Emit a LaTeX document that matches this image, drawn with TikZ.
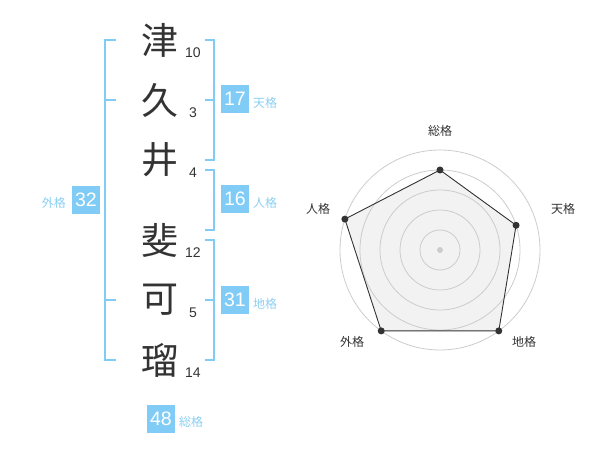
\documentclass[tikz,border=0pt]{standalone}
\usepackage{fontspec}
\usetikzlibrary{calc}
\setmainfont{Noto Sans CJK JP}
\newfontfamily\numfont{Liberation Sans}
\definecolor{bl}{HTML}{80CCF7}
\definecolor{bltxt}{HTML}{8CCFF3}
\definecolor{dk}{HTML}{333333}
\definecolor{gridc}{HTML}{CCCCCC}
\definecolor{fillc}{HTML}{F2F2F2}
\begin{document}
\begin{tikzpicture}[x=1pt,y=-1pt,
  kanji/.style={font=\fontsize{37}{37}\selectfont, text=dk, inner sep=0},
  stroke/.style={font=\numfont\fontsize{14}{14}\selectfont, text=dk, inner sep=0},
  bx/.style={fill=bl, text=white, minimum width=28, minimum height=28, inner sep=0, font=\numfont\fontsize{19.5}{19.5}\selectfont},
  kaku/.style={font=\fontsize{12}{12}\selectfont, text=bltxt, inner sep=0},
  brk/.style={draw=bl, line width=1.8},
  rlab/.style={font=\fontsize{12}{12}\selectfont, text=dk, inner sep=0},
  gridl/.style={draw=gridc, line width=0.8},
  dot/.style={circle, fill=dk, inner sep=0, minimum size=7}
]
\useasboundingbox (0,0) rectangle (600,470);
% kanji
\node[kanji] (k1) at (160,40) {津};
\node[kanji] (k2) at (160,100) {久};
\node[kanji] (k3) at (160,160) {井};
\node[kanji] (k4) at (160,240) {斐};
\node[kanji] (k5) at (160,300) {可};
\node[kanji] (k6) at (160,360) {瑠};
% strokes
\node[stroke] (n1) at (193,53) {10};
\node[stroke] (n2) at (193,113) {3};
\node[stroke] (n3) at (193,173) {4};
\node[stroke] (n4) at (193,253) {12};
\node[stroke] (n5) at (193,313) {5};
\node[stroke] (n6) at (193,373) {14};
% outer bracket
\draw[brk] (116,40) -- (105,40) -- (105,360) -- (116,360);
\draw[brk] (105,100) -- (116,100);
\draw[brk] (105,300) -- (116,300);
% ten
\draw[brk] (205,40) -- (214,40) -- (214,160) -- (205,160);
\draw[brk] (205,100) -- (214,100);
% jin
\draw[brk] (205,170) -- (214,170) -- (214,230) -- (205,230);
% chi
\draw[brk] (205,240) -- (214,240) -- (214,360) -- (205,360);
\draw[brk] (205,300) -- (214,300);
% boxes
\node[bx] (b17) at (235,99) {17};
\node[kaku,anchor=west] (t17) at (253,103) {天格};
\node[bx] (b16) at (235,199) {16};
\node[kaku,anchor=west] (t16) at (253,203) {人格};
\node[bx] (b31) at (235,300) {31};
\node[kaku,anchor=west] (t31) at (253,304) {地格};
\node[bx] (b32) at (86,200) {32};
\node[kaku,anchor=east] (t32) at (66,203) {外格};
\node[bx] (b48) at (161,418.5) {48};
\node[kaku,anchor=west] (t48) at (179,422) {総格};
% radar
\begin{scope}[shift={(440,250)}]
  \coordinate (pA) at (-90:80);
  \coordinate (pB) at (-18:80);
  \coordinate (pC) at (54:100);
  \coordinate (pD) at (126:100);
  \coordinate (pE) at (-162:100);
  \fill[fillc] (pA) -- (pB) -- (pC) -- (pD) -- (pE) -- cycle;
  \foreach \r in {20,40,60,80,100} \draw[gridl] (0,0) circle (\r);
  \fill[gridc] (0,0) circle (3);
  \draw[dk, line width=0.9] (pA) -- (pB) -- (pC) -- (pD) -- (pE) -- cycle;
  \foreach \p in {pA,pB,pC,pD,pE} \node[dot] at (\p) {};
\end{scope}
\node[rlab] (lA) at (440,131) {総格};
\node[rlab] (lB) at (563,209) {天格};
\node[rlab] (lC) at (524,342) {地格};
\node[rlab] (lD) at (352,342) {外格};
\node[rlab] (lE) at (318,209) {人格};
\end{tikzpicture}
\end{document}
